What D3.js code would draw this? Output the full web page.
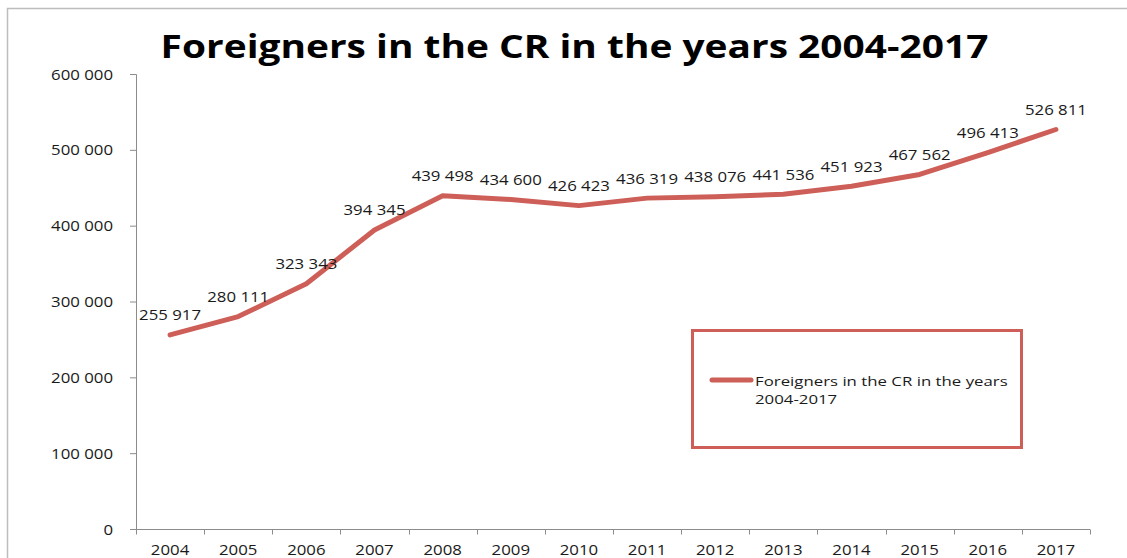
<!DOCTYPE html>
<html>
<head>
<meta charset="utf-8">
<script src="https://cdn.jsdelivr.net/npm/d3@7"></script>
<style>
  html, body { margin: 0; padding: 0; background: #fff; }
  svg { display: block; }
  text { font-family: "Open Sans", "DejaVu Sans", sans-serif; fill: #1a1a1a; }
</style>
</head>
<body>
<svg id="chart" width="1127" height="558"></svg>
<script>
// Foreigners living in the Czech Republic, 2004–2017
const years = ["2004","2005","2006","2007","2008","2009","2010","2011","2012","2013","2014","2015","2016","2017"];
const foreigners = [255917, 280111, 323343, 394345, 439498, 434600, 426423, 436319, 438076, 441536, 451923, 467562, 496413, 526811];
const yTicks = [0, 100000, 200000, 300000, 400000, 500000, 600000];
const seriesName = "Foreigners in the CR in the years 2004-2017";
const legendLines = ["Foreigners in the CR in the years", "2004-2017"];

const W = 1127, H = 558;
const margin = { left: 136, right: 37, top: 74, bottom: 29 };
const lineColor = "#cd5f58";
const axisColor = "#8c8c8c";
const SX = 1.2;            // horizontal stretch of the lettering
const labelSize = 14;

const svg = d3.select("#chart");

// space-separated thousands, e.g. 255 917
const fmt = v => d3.format(",")(v).replace(/,/g, " ");

// frame around the chart
svg.append("path")
  .attr("d", `M7.5,${H} V8.5 H${W}`)
  .attr("fill", "none").attr("stroke", "#bdbdbd").attr("stroke-width", 1.5);

const x = d3.scaleBand().domain(years).range([margin.left, W - margin.right]);
const y = d3.scaleLinear().domain([0, 600000]).range([H - margin.bottom, margin.top]);

function stretchedText(g, tx, ty, str, anchor, size, weight, sx) {
  return g.append("text")
    .attr("transform", `translate(${tx},${ty}) scale(${sx || SX},1)`)
    .attr("text-anchor", anchor)
    .attr("font-size", size)
    .attr("font-weight", weight || 400)
    .text(str);
}

// title
stretchedText(svg, 574.5, 58, seriesName, "middle", 32, 700, 1.215)
  .style("fill", "#000");

// y axis
const yAxis = d3.axisLeft(y).tickValues(yTicks).tickSize(6).tickFormat("");
const gy = svg.append("g").attr("transform", `translate(${margin.left},0)`).call(yAxis);
gy.select(".domain").attr("d", `M-6,${y(600000) + 0.5}H0.5V${y(0) + 0.5}`);
gy.selectAll("line, path").attr("stroke", axisColor);
gy.selectAll(".tick").each(function (d) {
  stretchedText(d3.select(this), -23, 5, fmt(d), "end", labelSize);
});

// x axis with ticks on band boundaries
const xAxisG = svg.append("g").attr("transform", `translate(0,${y(0) + 0.5})`);
xAxisG.append("line").attr("x1", margin.left).attr("x2", W - margin.right)
  .attr("stroke", axisColor);
const bounds = years.map(d => x(d)).concat([x(years[years.length - 1]) + x.bandwidth()]);
xAxisG.selectAll("line.tk").data(bounds).join("line").attr("class", "tk")
  .attr("x1", d => Math.round(d) + 0.5).attr("x2", d => Math.round(d) + 0.5)
  .attr("y1", 0).attr("y2", 5).attr("stroke", axisColor);
years.forEach(d => {
  stretchedText(xAxisG, x(d) + x.bandwidth() / 2, 25, d, "middle", labelSize);
});

// series line
const cx = d => x(d) + x.bandwidth() / 2;
const line = d3.line().x((d, i) => cx(years[i])).y(d => y(d));
svg.append("path").datum(foreigners)
  .attr("d", line)
  .attr("fill", "none").attr("stroke", lineColor)
  .attr("stroke-width", 5).attr("stroke-linejoin", "round").attr("stroke-linecap", "round");

// value labels
const labels = svg.append("g");
foreigners.forEach((v, i) => {
  stretchedText(labels, cx(years[i]), y(v) - 14.5, fmt(v), "middle", labelSize);
});

// legend
const lg = svg.append("g");
lg.append("rect").attr("x", 692.5).attr("y", 330.5).attr("width", 329).attr("height", 117)
  .attr("fill", "#fff").attr("stroke", lineColor).attr("stroke-width", 3);
lg.append("line").attr("x1", 712).attr("x2", 751).attr("y1", 380).attr("y2", 380)
  .attr("stroke", lineColor).attr("stroke-width", 5).attr("stroke-linecap", "round");
legendLines.forEach((s, i) => {
  stretchedText(lg, 755, 386 + i * 18, s, "start", 13, 400, SX * 14 / 13);
});
</script>
</body>
</html>
